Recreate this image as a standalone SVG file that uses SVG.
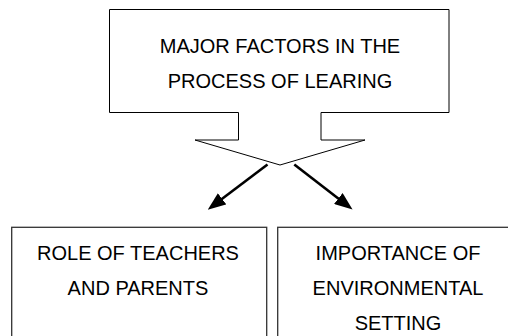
<svg xmlns="http://www.w3.org/2000/svg" width="508" height="336" viewBox="0 0 508 336">
  <defs>
    <style>
      .shape { fill: #ffffff; stroke: #000000; stroke-width: 1; }
      .box { fill: #ffffff; stroke: #333333; stroke-width: 1.3; }
      .label { font-family: "Liberation Sans", Arial, sans-serif; font-size: 20px; fill: #000000; text-anchor: middle; }
      .link { fill: none; stroke: #000000; stroke-width: 2.6; }
    </style>
    <marker id="head" markerUnits="userSpaceOnUse" markerWidth="18" markerHeight="14" viewBox="0 0 18 14" refX="2" refY="7" orient="auto">
      <path d="M0,0 L18,7 L0,14 Z" fill="#000000"/>
    </marker>
  </defs>

  <!-- Title callout: box with a split double-arrow stem -->
  <g id="major-factors">
    <path class="shape" d="M109.5,9.5 H449 V112.5 H321 V140 H365 L280,165 L195,140 H238.5 V112.5 H109.5 Z"/>
    <text class="label" x="280" y="53">MAJOR FACTORS IN THE</text>
    <text class="label" x="280" y="88">PROCESS OF LEARING</text>
  </g>

  <g id="connectors">
    <path class="link" d="M267.5,164.5 L220.5,200" marker-end="url(#head)"/>
    <path class="link" d="M294.3,164.5 L339.9,199.8" marker-end="url(#head)"/>
  </g>

  <g id="teachers-parents">
    <rect class="box" x="11.7" y="227.3" width="255" height="120"/>
    <text class="label" x="138" y="260">ROLE OF TEACHERS</text>
    <text class="label" x="138" y="295">AND PARENTS</text>
  </g>

  <g id="environmental-setting">
    <rect class="box" x="277.7" y="227.3" width="245" height="120"/>
    <text class="label" x="398" y="260">IMPORTANCE OF</text>
    <text class="label" x="398" y="295">ENVIRONMENTAL</text>
    <text class="label" x="398" y="330">SETTING</text>
  </g>
</svg>
